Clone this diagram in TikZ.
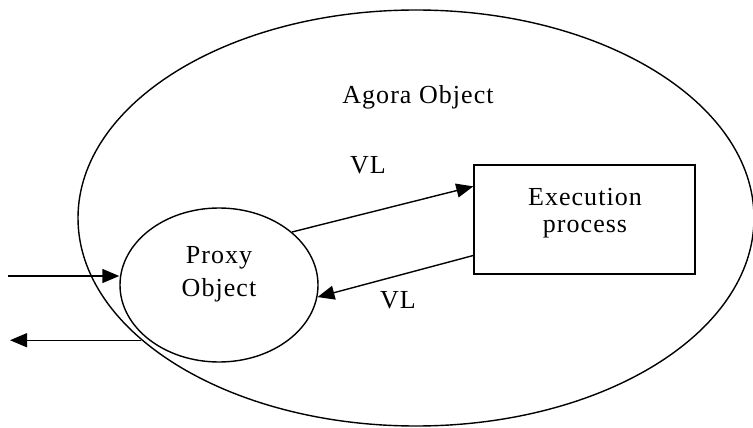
\documentclass[tikz,border=0pt]{standalone}
\usepackage{fontspec}
\setmainfont{Liberation Serif}
\newfontfamily\labfont[LetterSpace=4]{Liberation Serif}
\usetikzlibrary{shapes.geometric,arrows.meta,calc}
\begin{document}
\begin{tikzpicture}[x=1pt,y=-1pt,
  line width=1.4pt,
  lab/.style={font=\labfont\fontsize{26}{26}\selectfont, inner sep=0pt, align=center},
  oval/.style={draw, ellipse, inner sep=0pt},
  arr/.style={-{Triangle[length=17pt,width=14pt]}}]
\useasboundingbox (0,0) rectangle (753,428);
\node[oval, minimum width=676, minimum height=416] (agora) at (416,218) {};
\node[oval, minimum width=198, minimum height=154] (proxy) at (219,285) {};
\node[draw, minimum width=221, minimum height=109, inner sep=0pt] (exec) at (584.5,219.5) {};
\node[lab] (agoratxt) at (418,97) {Agora Object};
\node[lab, font=\labfont\fontsize{26}{33}\selectfont] (proxytxt) at (219,274) {Proxy\\Object};
\node[lab, font=\labfont\fontsize{26}{27}\selectfont] (exectxt) at (585,213) {Execution\\process};
\node[lab] (vl1) at (368,165) {VL};
\node[lab] (vl2) at (398,300) {VL};
\coordinate (inStart) at (8,276);
\coordinate (outEnd) at (10,0);
\draw[arr] (proxy.36) -- ($(exec.north west)!0.2!(exec.south west)$);
\draw[arr] ($(exec.north west)!0.826!(exec.south west)$) -- (proxy.-7);
\draw[arr] (inStart) -- (inStart -| proxy.west);
\draw[arr] (agora.204) -- (outEnd |- agora.204);
\end{tikzpicture}
\end{document}
